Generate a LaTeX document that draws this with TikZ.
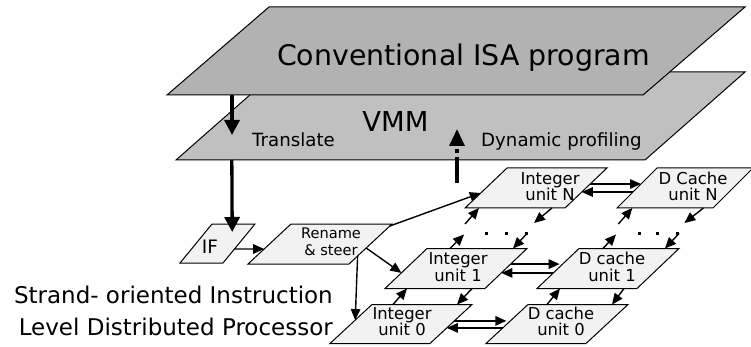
\documentclass[tikz,border=0pt]{standalone}
\usepackage{fontspec}
\setmainfont{DejaVu Sans}
\usetikzlibrary{arrows.meta,calc}

\definecolor{planetop}{RGB}{178,178,178}
\definecolor{planevmm}{RGB}{192,192,192}
\definecolor{unitfill}{RGB}{242,242,242}

% \drawslab{name}{cx}{cy}{half width}{half height}{half slant}{style}
% draws a parallelogram leaning right and names its four corners
\newcommand{\drawslab}[7]{%
  \coordinate (#1-bl) at ({#2-#4-#6},{#3+#5});
  \coordinate (#1-br) at ({#2+#4-#6},{#3+#5});
  \coordinate (#1-tr) at ({#2+#4+#6},{#3-#5});
  \coordinate (#1-tl) at ({#2-#4+#6},{#3-#5});
  \path[#7] (#1-bl) -- (#1-br) -- (#1-tr) -- (#1-tl) -- cycle;
}

\tikzset{
  plane/.style={draw=black, line width=1pt, line join=miter},
  unitbox/.style={draw=black, line width=1pt, fill=unitfill},
  lbl/.style={inner sep=0pt, align=center, font=\fontsize{16.4}{16.5}\selectfont},
  link/.style={line width=1.4pt, -{Triangle[length=11pt,width=9.5pt]}},
  heavy/.style={line width=3.3pt, -{Triangle[length=15pt,width=15pt]}},
  dotmark/.style={fill=black},
}

\begin{document}
\begin{tikzpicture}[x=1pt,y=-1pt]
\useasboundingbox (0,0) rectangle (751,347);
\fill[white] (0,0) rectangle (751,347);

% the two stacked layers
\drawslab{vmm}{460.5}{116}{234.5}{44}{50}{plane, fill=planevmm}
\drawslab{isa}{456}{51}{238}{44}{51}{plane, fill=planetop}

\node[anchor=base, inner sep=0pt, font=\fontsize{28.4}{30}\selectfont] (isatext) at (463.5,66) {Conventional ISA program};
\node[anchor=base, inner sep=0pt, font=\fontsize{27.4}{30}\selectfont] (vmmtext) at (395.5,132) {VMM};
\node[anchor=base west, inner sep=0pt, font=\fontsize{18.2}{20}\selectfont] (translate) at (252,147) {Translate};
\node[anchor=base west, inner sep=0pt, font=\fontsize{18.2}{20}\selectfont] (profiling) at (481,147) {Dynamic profiling};

% front end and execution units
\drawslab{if}{217.5}{243.5}{21.5}{19.5}{16}{unitbox}
\drawslab{ren}{320}{244}{50.5}{20}{21.5}{unitbox}
\drawslab{int0}{401}{324}{50}{19.5}{21}{unitbox}
\drawslab{int1}{456}{268.5}{50}{20}{21}{unitbox}
\drawslab{intn}{536}{188}{50}{20}{21}{unitbox}
\drawslab{dc0}{557}{324}{50}{19.5}{21}{unitbox}
\drawslab{dc1}{608}{268.5}{50}{20}{21}{unitbox}
\drawslab{dcn}{685}{188}{48}{20}{20}{unitbox}

\node[inner sep=0pt, font=\fontsize{18.5}{20}\selectfont] (iftext) at (210,247) {IF};
\node[lbl, font=\fontsize{14.6}{17}\selectfont] (rentext) at (331,242) {Rename\\\& steer};
\node[lbl] (int0text) at (402,321.5) {Integer\\unit 0};
\node[lbl] (int1text) at (458,267) {Integer\\unit 1};
\node[lbl] (intntext) at (550,186.5) {Integer\\unit N};
\node[lbl] (dc0text) at (561,321.5) {D cache\\unit 0};
\node[lbl] (dc1text) at (612,267) {D cache\\unit 1};
\node[lbl] (dcntext) at (693,186.5) {D Cache\\unit N};

\node[anchor=base east, inner sep=0pt, font=\fontsize{23}{32}\selectfont] (strand1) at (333,303) {Strand- oriented Instruction};
\node[anchor=base east, inner sep=0pt, font=\fontsize{23}{32}\selectfont] (strand2) at (333,335) {Level Distributed Processor};

% translate / profiling paths
\coordinate (trtip) at ($(isa-bl)!0.1366!(isa-br)+(0,40)$);
\draw[heavy] ($(isa-bl)!0.1366!(isa-br)$) -- (trtip);
\draw[heavy] ($(vmm-bl)!0.119!(vmm-br)$) -- ($(if-tl)!0.47!(if-tr)+(0,8)$);
\coordinate (dynstart) at (457,183);
\coordinate (dyntip) at (457,129);
\draw[line width=3.3pt, dash pattern=on 26pt off 4pt on 4pt off 30pt,
      -{Triangle[length=17pt,width=15pt]}] (dynstart) -- (dyntip);

% dispatch
\draw[link] ($(if-br)!0.36!(if-tr)$) -- ($(ren-bl)!0.375!(ren-tl)$);
\draw[link] ($(ren-br)!0.95!(ren-tr)$) -- ($(intn-bl)!0.375!(intn-tl)$);
\draw[link] ($(ren-br)!0.4!(ren-tr)$) -- ($(int1-bl)!0.39!(int1-tl)$);
\draw[link] ($(ren-br)!0.2!(ren-tr)$) -- ($(int0-bl)!0.6!(int0-tl)$);

% integer column
\draw[link] ($(int0-tl)!0.21!(int0-tr)$) -- ($(int1-bl)!0.22!(int1-br)$);
\draw[link] ($(int1-bl)!0.87!(int1-br)$) -- ($(int0-tl)!0.85!(int0-tr)$);
\draw[link] ($(int1-tl)!0.23!(int1-tr)$) -- ++(14,-14);
\draw[link] ($(intn-bl)!0.14!(intn-br)+(-14,16)$) -- ($(intn-bl)!0.14!(intn-br)$);
\draw[link] ($(intn-bl)!0.87!(intn-br)$) -- ++(-18,15);
\draw[link] ($(int1-tl)!0.86!(int1-tr)+(14,-15)$) -- ($(int1-tl)!0.86!(int1-tr)$);

% cache column
\draw[link] ($(dc0-tl)!0.19!(dc0-tr)$) -- ($(dc1-bl)!0.23!(dc1-br)$);
\draw[link] ($(dc1-bl)!0.87!(dc1-br)$) -- ($(dc0-tl)!0.84!(dc0-tr)$);
\draw[link] ($(dc1-tl)!0.24!(dc1-tr)$) -- ++(13,-14);
\draw[link] ($(dcn-bl)!0.16!(dcn-br)+(-14,16)$) -- ($(dcn-bl)!0.16!(dcn-br)$);
\draw[link] ($(dcn-bl)!0.9!(dcn-br)$) -- ++(-19,15);
\draw[link] ($(dc1-tl)!0.86!(dc1-tr)+(14,-15)$) -- ($(dc1-tl)!0.86!(dc1-tr)$);

% integer <-> cache
\draw[link] ($(int0-br)!0.58!(int0-tr)$) -- ($(dc0-bl)!0.58!(dc0-tl)+(-4,0)$);
\draw[link] ($(dc0-bl)!0.4!(dc0-tl)$) -- ($(int0-br)!0.4!(int0-tr)$);
\draw[link] ($(int1-br)!0.61!(int1-tr)$) -- ($(dc1-bl)!0.61!(dc1-tl)+(-3,0)$);
\draw[link] ($(dc1-bl)!0.39!(dc1-tl)$) -- ($(int1-br)!0.39!(int1-tr)$);
\draw[link] ($(intn-br)!0.6!(intn-tr)$) -- ($(dcn-bl)!0.6!(dcn-tl)$);
\draw[link] ($(dcn-bl)!0.4!(dcn-tl)$) -- ($(intn-br)!0.4!(intn-tr)$);

% ellipsis dots between unit 1 and unit N
\foreach \dx in {486,506,526,639,657,677}
  \fill[dotmark] (\dx-1.5,231.5) rectangle ++(3,3);
\end{tikzpicture}
\end{document}
